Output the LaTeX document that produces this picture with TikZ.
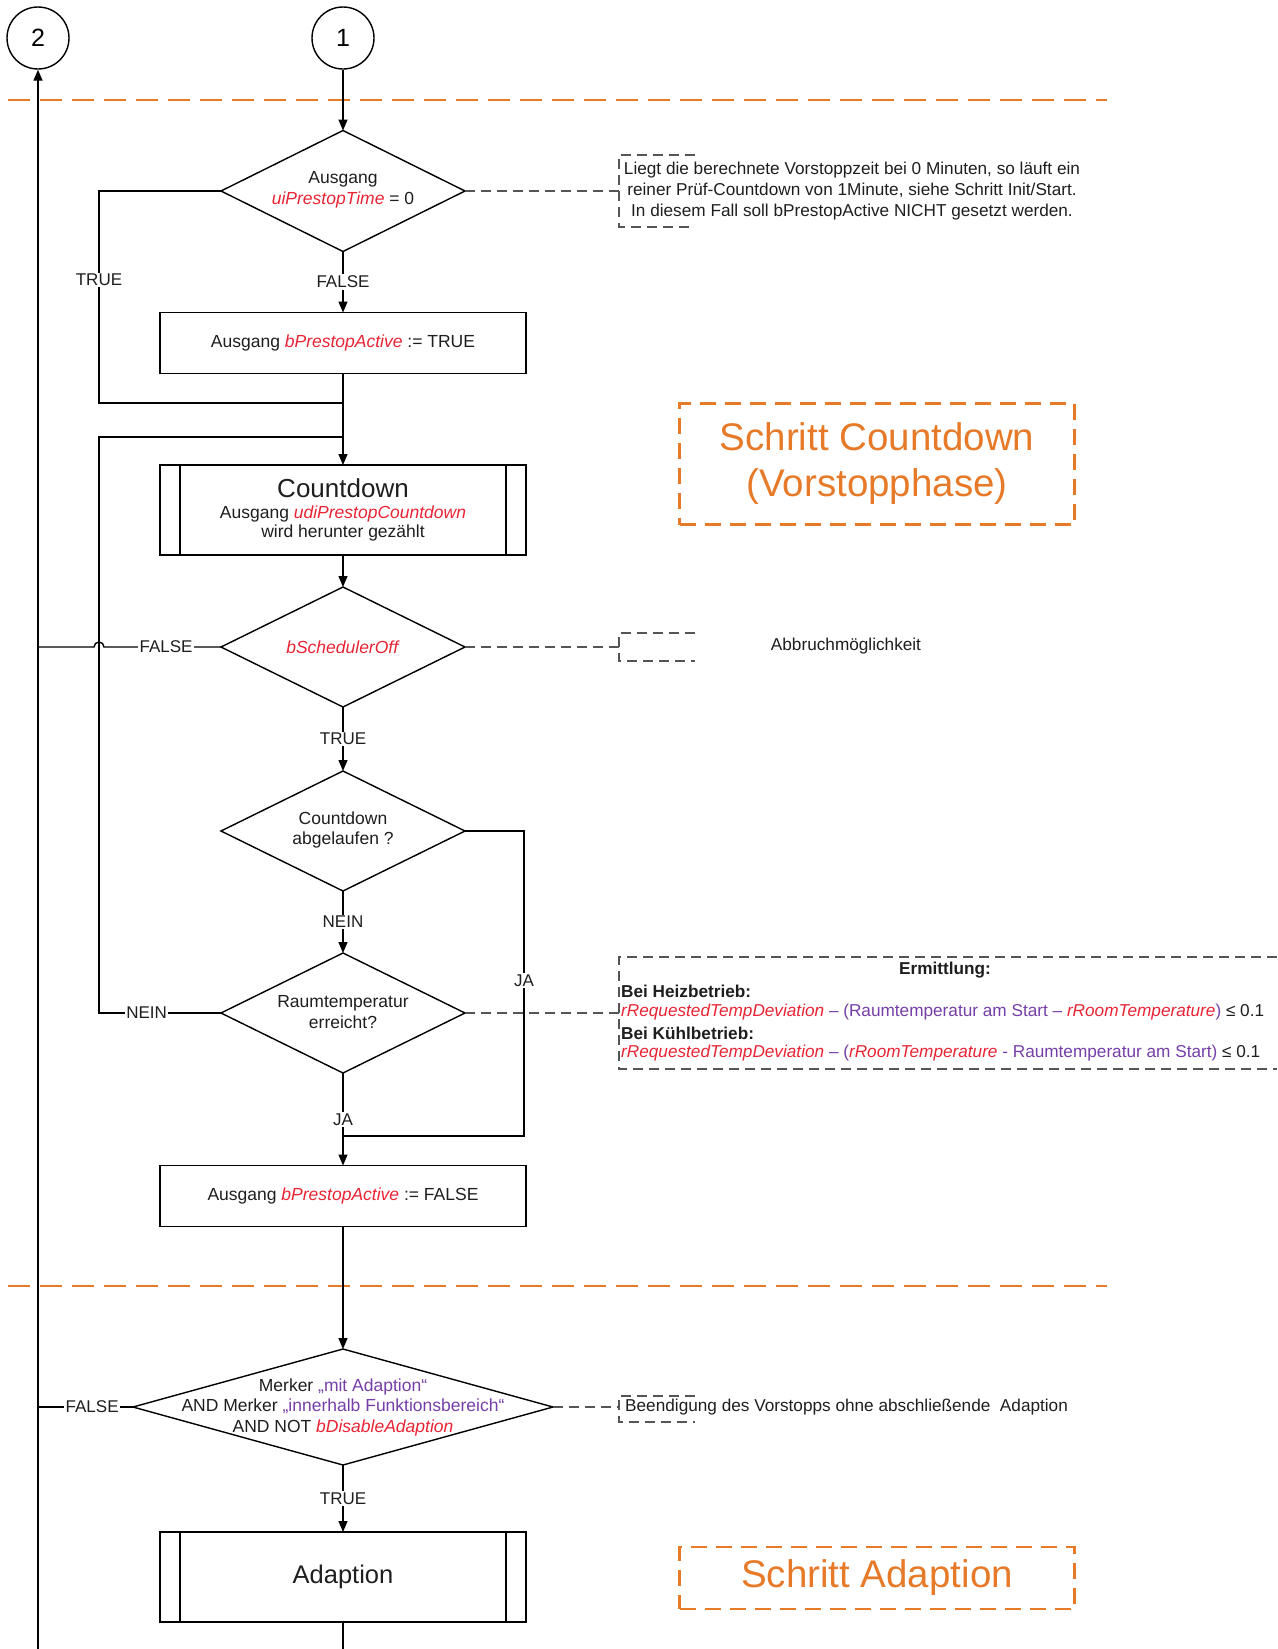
\documentclass[tikz,border=0pt]{standalone}
\usepackage{fontspec}
\setmainfont{Liberation Sans}
\usetikzlibrary{shapes.geometric,arrows.meta,calc}
\definecolor{cred}{RGB}{232,36,52}
\definecolor{cpurple}{RGB}{118,62,168}
\definecolor{corange}{RGB}{230,122,40}
\definecolor{cgray}{RGB}{85,85,85}
\definecolor{ctext}{RGB}{30,30,30}
\newcommand{\rv}[1]{\textcolor{cred}{\textit{#1}}}
\newcommand{\pv}[1]{\textcolor{cpurple}{#1}}
\tikzset{
  flow/.style={line width=1.4pt, black},
  arr/.style={flow, -{Triangle[length=11pt,width=9pt]}},
  dec/.style={shape=diamond, draw, line width=1.4pt, inner sep=0pt, outer sep=0pt, minimum width=244pt, minimum height=121pt},
  proc/.style={rectangle, draw, line width=1.4pt, minimum width=366pt, minimum height=61pt, inner sep=0pt, outer sep=0pt, text=ctext, font=\fontsize{17.5}{20.5}\selectfont},
  txt/.style={inner sep=0pt, text=ctext, font=\fontsize{17.5}{20.5}\selectfont},
  lbl/.style={fill=white, inner sep=1.5pt, text=ctext, font=\fontsize{17}{19}\selectfont},
  conn/.style={circle, draw, line width=1.4pt, minimum size=62pt, inner sep=0pt, font=\fontsize{25}{28}\selectfont},
  note/.style={cgray, line width=1.4pt, dash pattern=on 10pt off 6pt},
  notetxt/.style={inner sep=0pt, text=ctext, font=\fontsize{17.2}{21}\selectfont},
  sep/.style={corange, line width=2.2pt, dash pattern=on 22pt off 10pt},
  phase/.style={draw=corange, line width=2.2pt, dash pattern=on 16pt off 9pt, text=corange, align=center, minimum width=395pt, inner sep=0pt, font=\fontsize{38.5}{46}\selectfont}
}
\begin{document}
\begin{tikzpicture}[x=1pt,y=-1pt]
\useasboundingbox (0,0) rectangle (1277,1649);

% connectors top
\node[conn] (c2) at (38,38) {2};
\node[conn] (c1) at (343,38) {1};
\draw[sep] (8,100) -- (1107,100);
\draw[sep] (8,1286) -- (1107,1286);

% nodes
\node[dec] (d1) at (343,191) {};
\node[txt, align=center] (t1) at (343,190) {Ausgang\\ \rv{uiPrestopTime} = 0};
\node[proc] (b1) at (343,343) {Ausgang \rv{bPrestopActive} := TRUE};
\node[proc, minimum height=90pt, align=center] (cd) at (343,510)
  {{\fontsize{26}{26}\selectfont Countdown}\\[0pt] Ausgang \rv{udiPrestopCountdown}\\[-1pt] wird herunter gezählt};
\draw[line width=1.4pt] ([xshift=20pt]cd.north west) -- ([xshift=20pt]cd.south west);
\draw[line width=1.4pt] ([xshift=-20pt]cd.north east) -- ([xshift=-20pt]cd.south east);
\node[dec, minimum height=120pt] (d2) at (343,647) {};
\node[txt] (t2) at (343,647) {\rv{bSchedulerOff}};
\node[dec, minimum height=120pt] (d3) at (343,831) {};
\node[txt, align=center] (t3) at (343,830) {Countdown\\ abgelaufen ?};
\node[dec, minimum height=120pt] (d4) at (343,1013) {};
\node[txt, align=center] (t4) at (343,1012) {Raumtemperatur\\ erreicht?};
\node[proc] (b2) at (343,1196) {Ausgang \rv{bPrestopActive} := FALSE};
\node[dec, minimum width=420pt, minimum height=116pt] (d5) at (343,1407) {};
\node[txt, align=center] (t5) at (343,1407) {Merker \pv{„mit Adaption“}\\ AND Merker \pv{„innerhalb Funktionsbereich“}\\ AND NOT \rv{bDisableAdaption}};
\node[proc, minimum height=90pt, font=\fontsize{25.5}{28}\selectfont] (ad) at (343,1577) {Adaption};
\draw[line width=1.4pt] ([xshift=20pt]ad.north west) -- ([xshift=20pt]ad.south west);
\draw[line width=1.4pt] ([xshift=-20pt]ad.north east) -- ([xshift=-20pt]ad.south east);

% phase boxes
\node[phase, minimum height=121pt] (ph1) at (877,464) {Schritt Countdown\\(Vorstopphase)};
\node[phase, minimum height=62pt] (ph2) at (877,1578) {Schritt Adaption};

% helper coordinates
\coordinate (jt) at (343,403);
\coordinate (jl) at (343,437);
\coordinate (jj) at (343,1136);
\coordinate (ct) at (99,191);
\coordinate (cb) at (99,403);
\coordinate (ltop) at (99,437);
\coordinate (lbot) at (99,1013);
\coordinate (h1) at (104,647);
\coordinate (f2) at (38,647);
\coordinate (f5) at (38,1407);
\coordinate (ja1) at (524,831);
\coordinate (ja2) at (524,1136);
\coordinate (bl) at (38,1649);
\coordinate (bm) at (343,1649);

% flow
\draw[arr] (c1) -- (d1.north);
\draw[arr] (d1.south) -- node[lbl]{FALSE} (b1.north);
\draw[flow] (d1.west) -- (ct) -- node[lbl,pos=0.42]{TRUE} (cb) -- (jt);
\draw[arr] (b1.south) -- (cd.north);
\draw[arr] (cd.south) -- (d2.north);
\draw[flow] (d2.west) -- node[lbl,pos=0.47]{FALSE} (h1) arc[start angle=0,end angle=180,radius=5pt] -- (f2);
\draw[arr] (d2.south) -- node[lbl]{TRUE} (d3.north);
\draw[arr] (d3.south) -- node[lbl]{NEIN} (d4.north);
\draw[flow] (d3.east) -- (ja1) -- node[lbl,pos=0.49]{JA} (ja2) -- (jj);
\draw[flow] (d4.west) -- node[lbl,pos=0.61]{NEIN} (lbot) -- (ltop) -- (jl);
\draw[arr] (d4.south) -- node[lbl]{JA} (b2.north);
\draw[arr] (b2.south) -- (d5.north);
\draw[flow] (d5.west) -- node[lbl,pos=0.43]{FALSE} (f5);
\draw[arr] (d5.south) -- node[lbl]{TRUE} (ad.north);
\draw[flow] (ad.south) -- (bm);
\draw[arr] (bl) -- (c2.south);

% annotations
\coordinate (n1) at (619,191);
\draw[note] (d1.east) -- (n1);
\draw[note] (695,155) -- (619,155) -- (619,227) -- (695,227);
\node[notetxt, align=center] (a1) at (852,191) {Liegt die berechnete Vorstoppzeit bei 0 Minuten, so läuft ein\\ reiner Prüf-Countdown von 1Minute, siehe Schritt Init/Start.\\ In diesem Fall soll bPrestopActive NICHT gesetzt werden.};

\coordinate (n2) at (619,647);
\draw[note] (d2.east) -- (n2);
\draw[note] (695,633) -- (619,633) -- (619,661) -- (695,661);
\node[notetxt] (a2) at (846,646) {Abbruchmöglichkeit};

\coordinate (n4) at (619,1013);
\draw[note] (d4.east) -- (n4);
\draw[note] (1277,957) -- (619,957) -- (619,1069) -- (1277,1069);
\node[notetxt, font=\fontsize{17.2}{21}\selectfont\bfseries] (a4h) at (945,970) {Ermittlung:};
\node[notetxt, anchor=west] (a4a) at (621,991) {\textbf{Bei Heizbetrieb:}};
\node[notetxt, anchor=west] (a4b) at (621,1012) {\rv{rRequestedTempDeviation} \pv{– (Raumtemperatur am Start –} \rv{rRoomTemperature}\pv{)} ≤ 0.1};
\node[notetxt, anchor=west] (a4c) at (621,1033) {\textbf{Bei Kühlbetrieb:}};
\node[notetxt, anchor=west] (a4d) at (621,1053) {\rv{rRequestedTempDeviation} \pv{– (}\rv{rRoomTemperature} \pv{- Raumtemperatur am Start)} ≤ 0.1};

\coordinate (n5) at (619,1407);
\draw[note] (d5.east) -- (n5);
\draw[note] (695,1396) -- (619,1396) -- (619,1422) -- (695,1422);
\node[notetxt, anchor=west] (a5) at (625,1407) {Beendigung des Vorstopps ohne abschließende\ \ Adaption};
\end{tikzpicture}
\end{document}
